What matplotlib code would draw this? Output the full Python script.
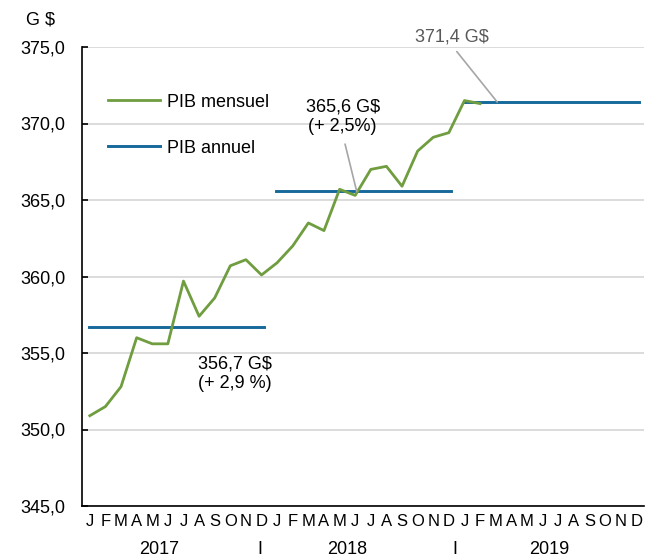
import matplotlib
matplotlib.use('Agg')
import matplotlib.pyplot as plt
import matplotlib.transforms as mtransforms

plt.rcParams['font.family'] = ['Liberation Sans', 'DejaVu Sans']

# Données (G$)
mois = ['J', 'F', 'M', 'A', 'M', 'J', 'J', 'A', 'S', 'O', 'N', 'D'] * 3
annees = ['2017', '2018', '2019']
pib_mensuel = [350.9, 351.5, 352.8, 356.0, 355.6, 355.6, 359.7, 357.4, 358.6, 360.7, 361.1, 360.1,
               360.9, 362.0, 363.5, 363.0, 365.7, 365.3, 367.0, 367.2, 365.9, 368.2, 369.1, 369.4,
               371.5, 371.3]
pib_annuel = [356.7, 365.6, 371.4]

vert = '#6F9D3F'
bleu = '#16699A'
fs = 13

fig = plt.figure(figsize=(6.46, 5.59), dpi=100)
ax = fig.add_axes([82 / 646, 1 - 506 / 559, 562 / 646, (506 - 47) / 559])

x = list(range(len(pib_mensuel)))
ax.plot(x, pib_mensuel, color=vert, lw=2, label='PIB mensuel', zorder=3)
for i, v in enumerate(pib_annuel):
    ax.plot([i * 12 - 0.05, i * 12 + 11.15], [v, v], color=bleu, lw=2.1,
            label='PIB annuel' if i == 0 else None, zorder=2)

ax.set_xlim(-0.5, 35.5)
ax.set_ylim(345, 375)
yt = [345, 350, 355, 360, 365, 370, 375]
ax.set_yticks(yt)
ax.set_yticklabels([('%.1f' % t).replace('.', ',') for t in yt], fontsize=fs)
ax.grid(axis='y', color='#d9d9d9', lw=1.3, zorder=0)
ax.set_axisbelow(True)

ax.set_xticks(range(36))
ax.set_xticklabels(mois, fontsize=12)
ax.tick_params(axis='x', length=0, pad=6)
ax.tick_params(axis='y', length=4, width=1.2, direction='in', color='black', pad=12)

for s in ['top', 'right']:
    ax.spines[s].set_visible(False)
ax.spines['left'].set_color('black')
ax.spines['left'].set_linewidth(1.2)
ax.spines['bottom'].set_color('black')
ax.spines['bottom'].set_linewidth(1.2)

# années sous l'axe
trans = mtransforms.blended_transform_factory(ax.transData, fig.transFigure)
ypos = 1 - 549 / 559
for xa, a in zip([4.43, 16.5, 29.4], annees):
    ax.text(xa, ypos, a, transform=trans, ha='center', va='center', fontsize=fs)
for xs in [10.9, 23.4]:
    ax.text(xs, ypos, 'I', transform=trans, ha='center', va='center', fontsize=fs)

fig.text(40 / 646, 1 - 20 / 559, 'G $', ha='center', va='center', fontsize=fs)

# annotations
ax.annotate('371,4 G$', xy=(26.1, 371.4), xytext=(23.2, 375.65), ha='center', va='center',
            fontsize=fs, color='#595959', annotation_clip=False,
            arrowprops=dict(arrowstyle='-', color='#a6a6a6', lw=1.2, shrinkA=3, shrinkB=0,
                            relpos=(0.5, 0)))
ax.annotate('365,6 G$\n(+ 2,5%)', xy=(17.1, 365.55), xytext=(16.2, 370.45), ha='center', va='center',
            fontsize=fs, color='black', linespacing=1.15,
            arrowprops=dict(arrowstyle='-', color='#a6a6a6', lw=1.2, shrinkA=5, shrinkB=0,
                            relpos=(0.5, 0)))
ax.text(9.3, 353.65, '356,7 G$\n(+ 2,9 %)', ha='center', va='center', fontsize=fs, linespacing=1.15)

ax.legend(loc='upper left', bbox_to_anchor=(0.046, 0.898), frameon=False, fontsize=fs,
          handlelength=2.9, labelspacing=1.6, handletextpad=0.35, borderpad=0, borderaxespad=0)

fig.savefig('out.png', dpi=100)
